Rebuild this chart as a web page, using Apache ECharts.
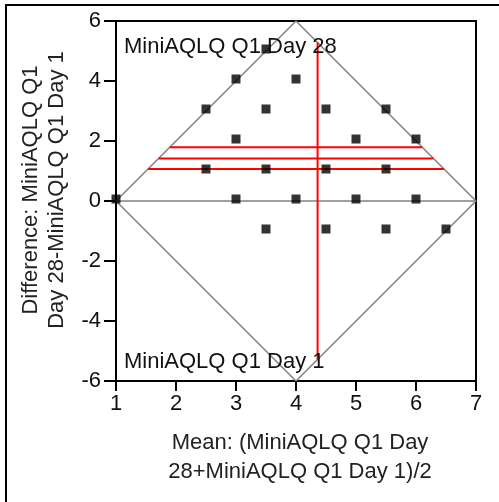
<!DOCTYPE html>
<html>
<head>
<meta charset="utf-8">
<script src="https://cdn.jsdelivr.net/npm/echarts@6/dist/echarts.min.js"></script>
<style>html,body{margin:0;padding:0;background:#fff}#c{width:499px;height:502px}</style>
</head>
<body>
<div id="c"></div>
<script>
// Data: mean (x) and difference (y) of MiniAQLQ Q1 Day 28 vs Day 1
const meanVals = [3.5, 3, 4, 2.5, 3.5, 4.5, 5.5, 3, 5, 6, 2.5, 3.5, 4.5, 5.5, 1, 3, 4, 5, 6, 3.5, 4.5, 5.5, 6.5];
const diffVals = [5, 4, 4, 3, 3, 3, 3, 2, 2, 2, 1, 1, 1, 1, 0, 0, 0, 0, 0, -1, -1, -1, -1];
const xTicks = [1, 2, 3, 4, 5, 6, 7];
const yTicks = [-6, -4, -2, 0, 2, 4, 6];
// Summary statistics
const meanDiff = 1.42;
const diffCI = [1.07, 1.79];
const meanOfMeans = 4.36;
// Diamond range (scale min/max)
const scaleMin = 1, scaleMax = 7;

const half = (scaleMax - scaleMin) / 2;
const mid = (scaleMin + scaleMax) / 2;
const maxDiff = scaleMax - scaleMin;
// width of diamond at a given difference
function edgeX(d) { const w = half * (1 - Math.abs(d) / maxDiff); return [mid - w, mid + w]; }

const points = meanVals.map((m, i) => [m, diffVals[i]]);
const diamond = [[scaleMin, 0], [mid, maxDiff], [scaleMax, 0], [mid, -maxDiff], [scaleMin, 0]];
const zeroLine = [[scaleMin, 0], [scaleMax, 0]];
const hLines = [diffCI[1], meanDiff, diffCI[0]].map(d => { const e = edgeX(d); return [[e[0], d], [e[1], d]]; });
const vHalf = maxDiff * (1 - Math.abs(meanOfMeans - mid) / half);
const vLine = [[meanOfMeans, vHalf], [meanOfMeans, -vHalf]];

const font = 'Liberation Sans, Arial, sans-serif';
const fs = 22;
const chart = echarts.init(document.getElementById('c'), null, {renderer: 'canvas'});
const series = [
  {type: 'line', data: diamond, symbol: 'none', lineStyle: {color: '#808080', width: 1.5}, z: 2, silent: true},
  {type: 'line', data: zeroLine, symbol: 'none', lineStyle: {color: '#808080', width: 1.5}, z: 2, silent: true}
];
hLines.forEach(l => series.push({type: 'line', data: l, symbol: 'none', lineStyle: {color: '#ff0000', width: 2}, z: 3, silent: true}));
series.push({type: 'line', data: vLine, symbol: 'none', lineStyle: {color: '#ff0000', width: 2}, z: 3, silent: true});
series.push({type: 'scatter', data: points, symbol: 'rect', symbolSize: 9, symbolOffset: [0, -2], itemStyle: {color: '#000'}, z: 4});

chart.setOption({
  animation: false,
  backgroundColor: '#fff',
  textStyle: {fontFamily: font},
  grid: {left: 116, top: 21, width: 360, height: 360, show: true, borderColor: '#000', borderWidth: 2, backgroundColor: 'transparent'},
  xAxis: {
    type: 'value', min: xTicks[0], max: xTicks[xTicks.length - 1], interval: 1,
    name: 'Mean: (MiniAQLQ Q1 Day\n28+MiniAQLQ Q1 Day 1)/2', nameLocation: 'middle', nameGap: 47,
    nameTextStyle: {fontSize: fs, color: '#222', fontFamily: font, lineHeight: 29, padding: [0, 0, 0, 8]},
    axisLine: {show: true, onZero: false, lineStyle: {color: '#000', width: 2}},
    axisTick: {show: true, inside: false, length: 10, lineStyle: {color: '#000', width: 2}},
    axisLabel: {fontSize: fs, color: '#111', fontFamily: font, margin: 12},
    splitLine: {show: false}
  },
  yAxis: {
    type: 'value', min: yTicks[0], max: yTicks[yTicks.length - 1], interval: 2,
    name: 'Difference: MiniAQLQ Q1\nDay 28-MiniAQLQ Q1 Day 1', nameLocation: 'middle', nameGap: 46,
    nameTextStyle: {fontSize: fs, color: '#222', fontFamily: font, lineHeight: 26, padding: [0, 0, 0, 22]},
    axisLine: {show: true, onZero: false, lineStyle: {color: '#000', width: 2}},
    axisTick: {show: true, inside: false, length: 12, lineStyle: {color: '#000', width: 2}},
    axisLabel: {fontSize: fs, color: '#111', fontFamily: font, margin: 15},
    splitLine: {show: false}
  },
  graphic: [
    {type: 'rect', shape: {x: 6, y: 5, width: 700, height: 700}, style: {fill: 'none', stroke: '#000', lineWidth: 2}, z: -1},
    {type: 'text', left: 124, top: 36, style: {text: 'MiniAQLQ Q1 Day 28', font: fs + 'px ' + font, fill: '#111'}, z: 10},
    {type: 'text', left: 124, top: 351, style: {text: 'MiniAQLQ Q1 Day 1', font: fs + 'px ' + font, fill: '#111'}, z: 10}
  ],
  series: series
});
</script>
</body>
</html>
